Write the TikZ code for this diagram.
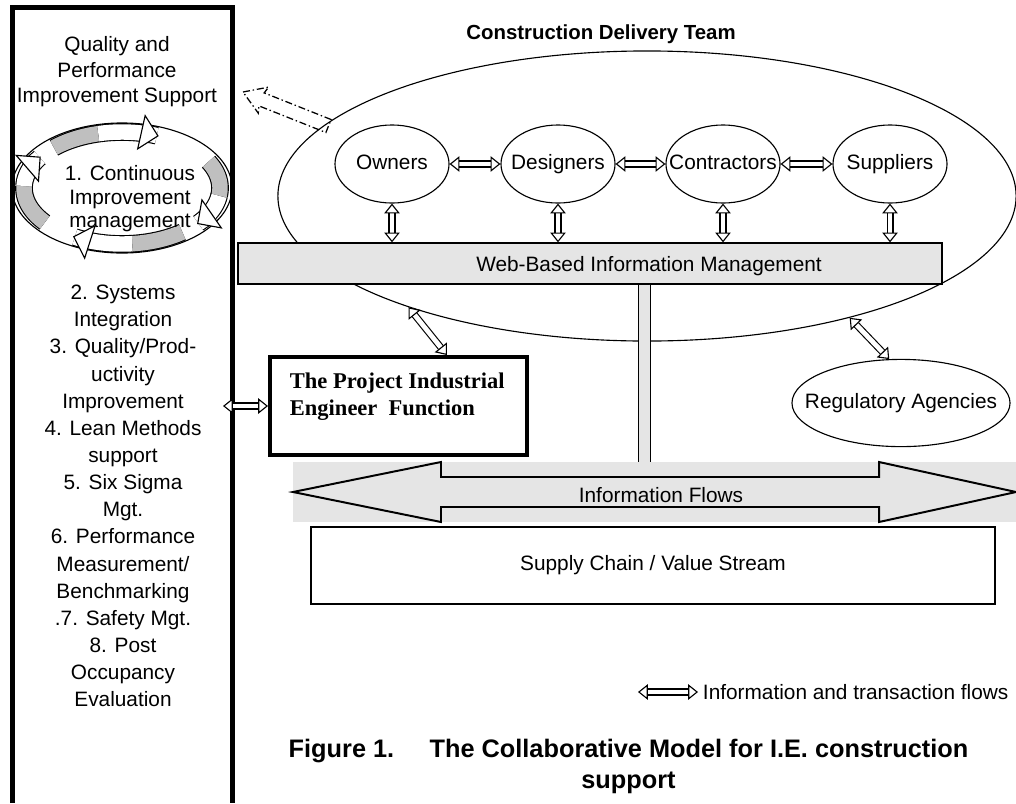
\documentclass[tikz,border=0pt]{standalone}
\usepackage{fontspec}
\setmainfont{Liberation Sans}
\newfontfamily\pieserif{Liberation Serif}
\usetikzlibrary{arrows.meta,shapes.geometric}

\definecolor{dotgray}{gray}{0.9}
\definecolor{bandgray}{gray}{0.75}

\tikzset{
  txt/.style={font=\fontsize{14.8}{18}\selectfont},
  party/.style={ellipse, draw, line width=0.8pt, minimum width=2.85cm, minimum height=1.95cm, inner sep=0pt, text height=10.6pt, text depth=3.1pt, txt},
  flow/.style={double, double distance=3.4pt, line width=0.8pt, {Triangle[fill=white, length=7pt, width=11pt, line width=0.8pt]}-{Triangle[fill=white, length=7pt, width=11pt, line width=0.8pt]}},
  band/.style={double=bandgray, double distance=11pt, line width=0.8pt},
  bandhead/.style={double=white, double distance=11pt, line width=0.8pt, -{Triangle[fill=white, length=13pt, width=26pt, line width=0.8pt]}},
  ddarrow/.style={line width=0.9pt, dash pattern=on 5pt off 2pt on 1pt off 2pt}
}

\begin{document}
\begin{tikzpicture}[x=0.025cm, y=-0.025cm]
\useasboundingbox (0,0) rectangle (1016,803);

% support panel on the left
\draw[line width=3.6pt] (12.5,803) -- (12.5,7.5) -- (232.5,7.5) -- (232.5,803);
\node[align=center, font=\fontsize{14.8}{18.1}\selectfont] (qps) at (117,72) {Quality and\\Performance\\Improvement Support};

% improvement cycle
\node[ellipse, draw, line width=0.8pt, minimum width=5.5cm, minimum height=3.25cm] (cyc) at (122,188) {};
\foreach \a/\b/\c in {226/256/292, -28/8/40, 52/84/120, 142/182/214} {
  \draw[band] plot[smooth, domain=\a:\b, variable=\t] ({122+98*cos(\t)},{188+56*sin(\t)});
  \draw[bandhead] plot[smooth, domain=\b:\c, variable=\t] ({122+98*cos(\t)},{188+56*sin(\t)});
}
\node[align=center, font=\fontsize{14.8}{16.7}\selectfont] (cimtxt) at (130,199) {1. Continuous\\Improvement\\management};

\node[align=center, font=\fontsize{14.8}{19.3}\selectfont] (ielist) at (123,496) {2. Systems\\Integration\\3. Quality/Prod-\\uctivity\\Improvement\\4. Lean Methods\\support\\5. Six Sigma\\Mgt.\\6. Performance\\Measurement/\\Benchmarking\\.7. Safety Mgt.\\8. Post\\Occupancy\\Evaluation};

% delivery team
\node[ellipse, draw, line width=0.8pt, minimum width=18.45cm, minimum height=7.25cm] (team) at (647,196) {};
\node[font=\bfseries\fontsize{14.5}{17}\selectfont] (teamlbl) at (601,34) {Construction Delivery Team};

\coordinate (qtip) at (243,92);
\begin{scope}[shift={(qtip)}, rotate=-21.7]
\draw[ddarrow] (0,0) -- (22,-14) -- (20,-7) -- (92,-7) -- (92,7) -- (20,7) -- (22,14) -- cycle;
\end{scope}

\node[party] (owners) at (392,164) {\makebox[0pt]{Owners}};
\node[party] (designers) at (558,164) {\makebox[0pt]{Designers}};
\node[party] (contractors) at (723,164) {\makebox[0pt]{Contractors}};
\node[party] (suppliers) at (890,164) {\makebox[0pt]{Suppliers}};

\node[draw, fill=dotgray, line width=0.9pt, minimum width=17.6cm, minimum height=1.025cm] (web) at (590,263.5) {};
\node[txt] (webtxt) at (649,266) {Web-Based Information Management};

\foreach \p/\q in {owners/designers, designers/contractors, contractors/suppliers}
  \draw[flow] (\p) -- (\q);
\foreach \p in {owners,designers,contractors,suppliers}
  \draw[flow] (\p.south) -- (\p.south |- web.north);

% information flows
\coordinate (bus) at (644.5,477);
\draw[line width=0.9pt, double=dotgray, double distance=7.4pt] (web.south -| bus) -- (bus);
\fill[dotgray] (293,462) rectangle (1016,522);
\draw[line width=1.4pt, fill=dotgray] (293,492) -- (441,462) -- (441,477) -- (879,477) -- (879,462) -- (1016,492) -- (879,522) -- (879,507) -- (441,507) -- (441,522) -- cycle;
\node[txt] (flowtxt) at (661,495) {Information Flows};

\node[draw, line width=1.4pt, minimum width=17.1cm, minimum height=1.925cm, txt] (supply) at (653,565.5) {Supply Chain / Value Stream};

% I.E. function
\node[draw, line width=2.8pt, minimum width=6.425cm, minimum height=2.45cm] (pie) at (398.5,406) {};
\node[anchor=west, align=left, font=\pieserif\bfseries\fontsize{16}{19}\selectfont] (pietxt) at (285,397) {The Project Industrial\\Engineer\ \ Function};
\coordinate (panelR) at (223,0);
\draw[flow] (pie.west -| panelR) -- (pie.west);
\draw[flow] (team.205.6) -- ([xshift=1.21cm]pie.north);

\node[party, minimum width=5.45cm, minimum height=2.18cm] (reg) at (901,403) {\makebox[0pt]{Regulatory Agencies}};
\draw[flow] (team.-31) -- (reg.105);

% legend and caption
\node[txt, anchor=west] (legend) at (698,692) {Information and transaction flows};
\coordinate (legL) at (638,692);
\draw[flow] (legL) -- (legend.west);

\node[align=center, font=\bfseries\fontsize{18}{22}\selectfont] (caption) at (628.5,766) {Figure 1.\hspace{1.4em}The Collaborative Model for I.E. construction\\support};
\end{tikzpicture}
\end{document}
